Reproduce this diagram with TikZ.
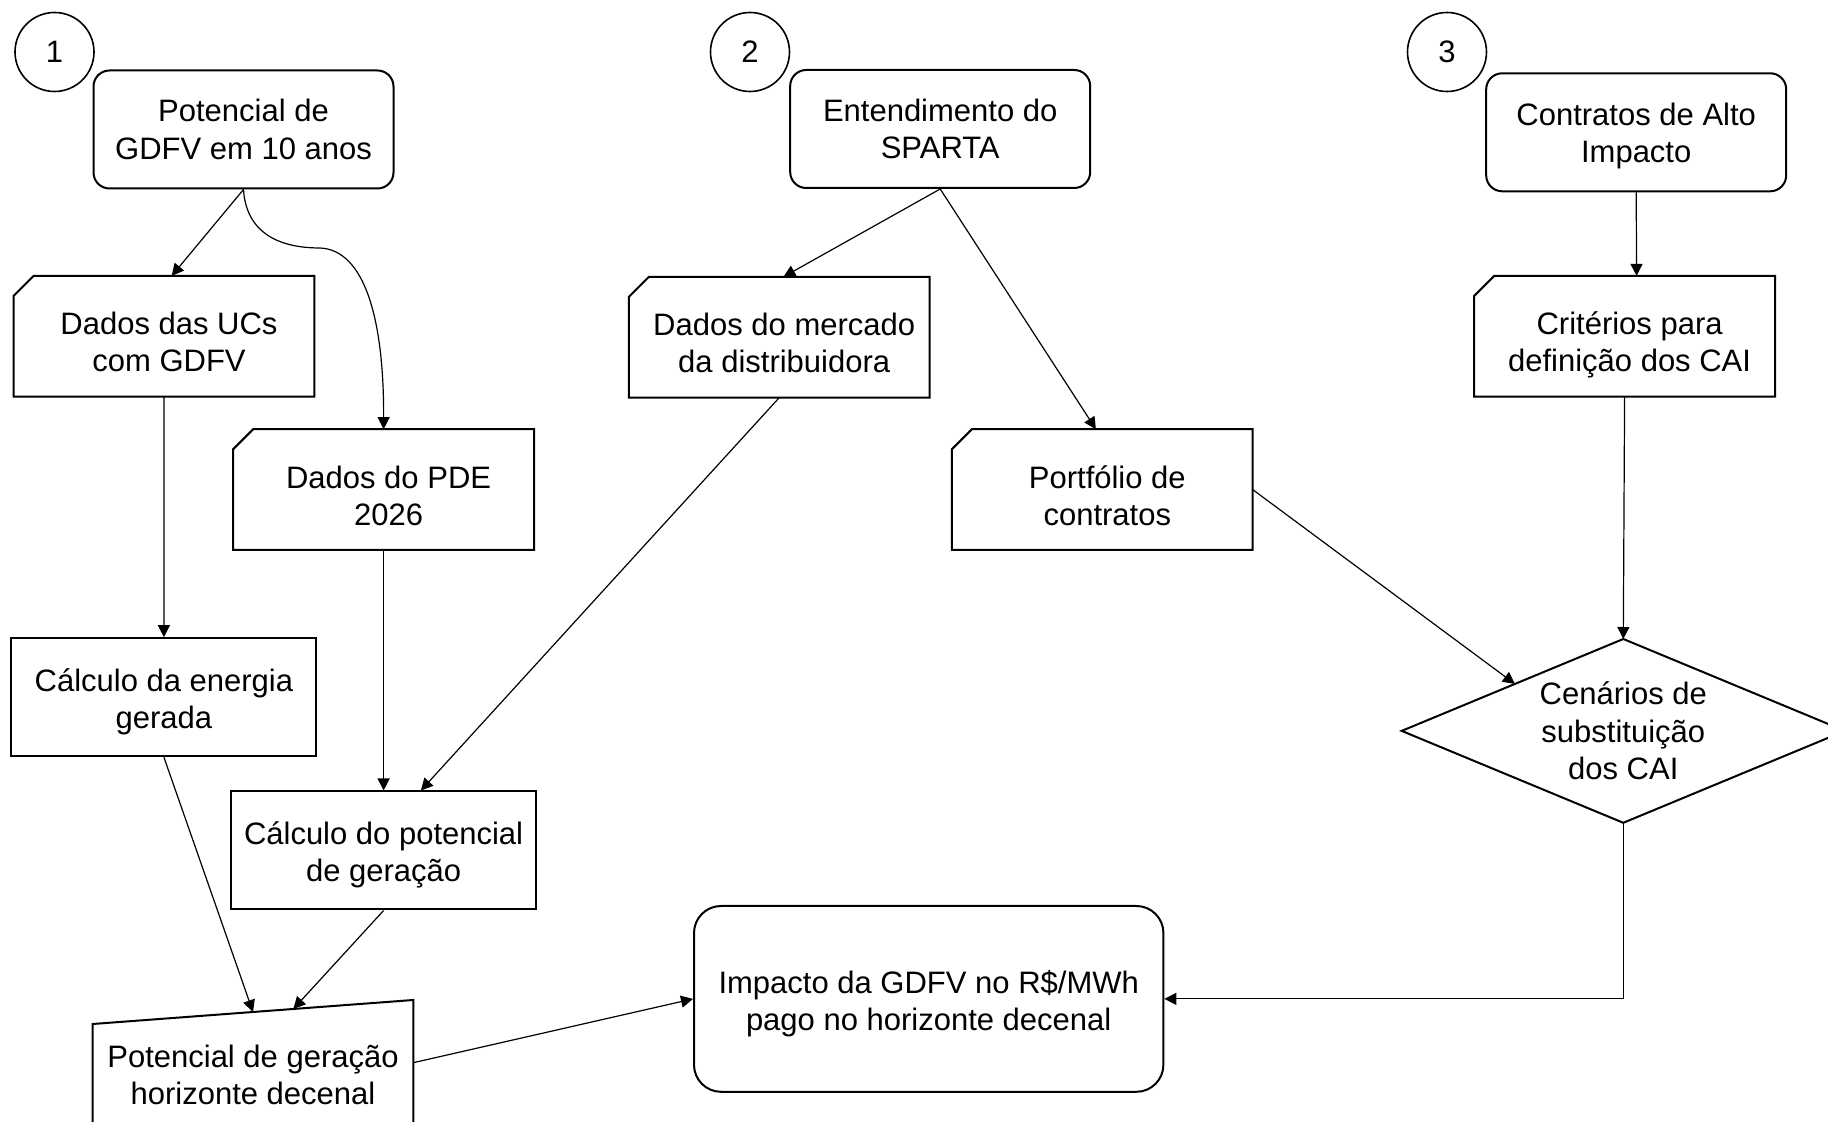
\documentclass[tikz,border=0pt]{standalone}
\usepackage{fontspec}
\setmainfont{Liberation Sans}
\usetikzlibrary{calc,arrows.meta}
\newcommand\up[1]{\rule{0pt}{#1}}
\newcommand\cs{\hspace*{5pt}}
\begin{document}
\begin{tikzpicture}[x=0.5pt,y=-0.5pt,
  every node/.style={font=\fontsize{15.5pt}{18.7pt}\selectfont, align=center, inner sep=0pt},
  rbox/.style={draw, line width=1pt, rounded corners=8pt, minimum width=150pt, minimum height=59pt},
  cardbox/.style={minimum width=150pt, minimum height=60pt},
  pbox/.style={draw, line width=1pt, minimum width=152.5pt, minimum height=59pt},
  numcirc/.style={draw, circle, line width=0.8pt, minimum size=39.5pt},
  conn/.style={line width=0.6pt, -{Triangle[length=6pt,width=6pt]}},
  outl/.style={line width=1pt, line join=miter}
]
\clip (0,0) rectangle (1828,1122);
\fill[white] (0,0) rectangle (1828,1122);

% numbered circles
\node[numcirc] (n1) at (54.5,52) {1};
\node[numcirc] (n2) at (750,52) {2};
\node[numcirc] (n3) at (1447,52) {3};

% rounded boxes
\node[rbox] (A) at (243.5,129.5) {Potencial de\\GDFV em 10 anos};
\node[rbox] (B) at (940.2,129) {Entendimento do\\SPARTA};
\node[rbox] (C) at (1636.2,132.3) {\up{14.8pt}Contratos de Alto\\Impacto};

% cards
\node[cardbox] (D) at (164,336.3) {\up{17.1pt}\cs Dados das UCs\\\cs com GDFV};
\node[cardbox] (E) at (383.6,489.6) {\up{17.7pt}\cs Dados do PDE\\\cs 2026};
\node[cardbox] (F) at (779.2,337.3) {\up{17.1pt}\cs Dados do mercado\\\cs da distribuidora};
\node[cardbox] (G) at (1102.3,489.6) {\up{17.3pt}\cs Portfólio de\\\cs contratos};
\node[cardbox] (H) at (1624.6,336.3) {\up{19.8pt}\cs Critérios para\\\cs definição dos CAI};
\foreach \n in {D,E,F,G,H}
  \draw[outl] ($(\n.north west)+(0,20)$) -- ($(\n.north west)+(20,0)$) -- (\n.north east) -- (\n.south east) -- (\n.south west) -- cycle;

% process boxes
\node[pbox] (I) at (163.9,697.2) {\up{16.1pt}Cálculo da energia\\gerada};
\node[pbox] (J) at (383.6,850.5) {\up{15.5pt}Cálculo do potencial\\de geração};

% manual input
\node (K) at (253,1075) {Potencial de geração\\horizonte decenal};
\coordinate (Ktl) at ($(K.center)+(-160.3,-51)$);
\coordinate (Ktr) at ($(K.center)+(160.3,-75)$);
\coordinate (Kbr) at ($(K.center)+(160.3,51)$);
\coordinate (Kbl) at ($(K.center)+(-160.3,51)$);
\draw[outl] (Ktl) -- (Ktr) -- (Kbr) -- (Kbl) -- cycle;

% result box
\node[draw, line width=1pt, rounded corners=13.5pt, minimum width=234.7pt, minimum height=92.9pt] (L) at (928.7,998.9) {\up{16.6pt}Impacto da GDFV no R\$/MWh\\pago no horizonte decenal};

% diamond
\node (M) at (1623.3,730.9) {Cenários de\\substituição\\dos CAI};
\coordinate (Mt) at ($(M.center)+(0,-91.9)$);
\coordinate (Mb) at ($(M.center)+(0,91.9)$);
\coordinate (Ml) at ($(M.center)+(-221.6,0)$);
\coordinate (Mr) at ($(M.center)+(221.6,0)$);
\draw[outl] (Mt) -- (Mr) -- (Mb) -- (Ml) -- cycle;

% connectors
\draw[conn] (A.south) -- ($(D.north)+(7.7,0)$);
\draw[conn] (A.south) .. controls (246,230) and (275,248) .. (320,248) .. controls (365,250) and (384,320) .. (E.north);
\draw[conn] (D.south) -- (I.north);
\draw[conn] (E.south) -- (J.north);
\draw[conn] (B.south) -- ($(F.north)+(4.2,0)$);
\draw[conn] (B.south) -- ($(G.north)+(-6.4,0)$);
\draw[conn] (C.south) -- ($(H.north)+(12,0)$);
\draw[conn] (F.south) -- ($(J.north)+(37.3,0)$);
\draw[conn] (G.east) -- ($(Ml)!0.511!(Mt)$);
\draw[conn] (H.south) -- (Mt);
\draw[conn] (I.south) -- ($(Ktl)!0.5!(Ktr)$);
\draw[conn] (J.south) -- ($(Ktl)!0.626!(Ktr)$);
\draw[conn] ($(K.center)+(160.3,-12.3)$) -- (L.west);
\draw[conn] (Mb) |- (L.east);
\end{tikzpicture}
\end{document}
